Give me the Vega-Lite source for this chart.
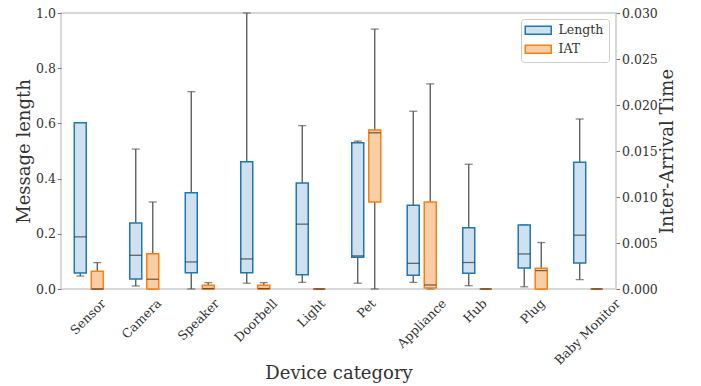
{
  "$schema": "https://vega.github.io/schema/vega-lite/v6.json",
  "autosize": {"type": "none"},
  "padding": {"left": 61, "top": 13, "right": 85, "bottom": 97},
  "width": 555,
  "height": 276,
  "background": "white",
  "config": {
    "font": "DejaVu Serif",
    "view": {"stroke": "#cccccc", "strokeWidth": 1.5},
    "axis": {
      "labelFont": "DejaVu Serif", "titleFont": "DejaVu Serif",
      "labelFontSize": 12.5, "titleFontSize": 18, "titleFontWeight": "normal",
      "labelColor": "#333333", "titleColor": "#333333",
      "tickColor": "#777777", "tickSize": 3.5, "labelPadding": 2,
      "domain": false, "grid": false
    },
    "legend": {"labelFont": "DejaVu Serif", "labelFontSize": 12.5, "labelColor": "#333333"}
  },
  "datasets": {
    "box": [
      {"category": "Sensor", "metric": "Length", "lo": 0.047, "q1": 0.058, "med": 0.189, "q3": 0.602, "hi": 0.602},
      {"category": "Sensor", "metric": "IAT", "lo": 0, "q1": 0, "med": 0, "q3": 0.00193, "hi": 0.00287},
      {"category": "Camera", "metric": "Length", "lo": 0.011, "q1": 0.036, "med": 0.122, "q3": 0.239, "hi": 0.507},
      {"category": "Camera", "metric": "IAT", "lo": 0, "q1": 0, "med": 0.00106, "q3": 0.00382, "hi": 0.00946},
      {"category": "Speaker", "metric": "Length", "lo": 0, "q1": 0.059, "med": 0.098, "q3": 0.349, "hi": 0.715},
      {"category": "Speaker", "metric": "IAT", "lo": 0, "q1": 0, "med": 0.00005, "q3": 0.0004, "hi": 0.00069},
      {"category": "Doorbell", "metric": "Length", "lo": 0.021, "q1": 0.059, "med": 0.109, "q3": 0.461, "hi": 1.0},
      {"category": "Doorbell", "metric": "IAT", "lo": 0, "q1": 0, "med": 0.00005, "q3": 0.0004, "hi": 0.00069},
      {"category": "Light", "metric": "Length", "lo": 0.024, "q1": 0.052, "med": 0.235, "q3": 0.384, "hi": 0.592},
      {"category": "Light", "metric": "IAT", "lo": 0, "q1": 0, "med": 0, "q3": 0, "hi": 0},
      {"category": "Pet", "metric": "Length", "lo": 0.021, "q1": 0.115, "med": 0.12, "q3": 0.53, "hi": 0.536},
      {"category": "Pet", "metric": "IAT", "lo": 0, "q1": 0.00946, "med": 0.01698, "q3": 0.01727, "hi": 0.02825},
      {"category": "Appliance", "metric": "Length", "lo": 0.024, "q1": 0.05, "med": 0.093, "q3": 0.303, "hi": 0.644},
      {"category": "Appliance", "metric": "IAT", "lo": 0, "q1": 0.0001, "med": 0.00044, "q3": 0.00946, "hi": 0.0223},
      {"category": "Hub", "metric": "Length", "lo": 0.012, "q1": 0.057, "med": 0.096, "q3": 0.222, "hi": 0.452},
      {"category": "Hub", "metric": "IAT", "lo": 0, "q1": 0, "med": 0, "q3": 0, "hi": 0},
      {"category": "Plug", "metric": "Length", "lo": 0.008, "q1": 0.076, "med": 0.127, "q3": 0.232, "hi": 0.232},
      {"category": "Plug", "metric": "IAT", "lo": 0, "q1": 0, "med": 0.002, "q3": 0.00226, "hi": 0.00505},
      {"category": "Baby Monitor", "metric": "Length", "lo": 0.034, "q1": 0.0945, "med": 0.195, "q3": 0.459, "hi": 0.616},
      {"category": "Baby Monitor", "metric": "IAT", "lo": 0, "q1": 0, "med": 0, "q3": 0, "hi": 0}
    ]
  },
  "data": {"name": "box"},
  "encoding": {
    "x": {
      "field": "category", "type": "nominal",
      "sort": ["Sensor", "Camera", "Speaker", "Doorbell", "Light", "Pet", "Appliance", "Hub", "Plug", "Baby Monitor"],
      "scale": {"paddingInner": 0.387, "paddingOuter": 0.194},
      "axis": {
        "title": "Device category", "labelAngle": -45, "labelAlign": "right", "labelBaseline": "middle",
        "ticks": false, "labelPadding": 12, "titlePadding": -2,
        "labelOffset": {"expr": "length(datum.label) * 2.5"}
      }
    },
    "xOffset": {"field": "metric", "type": "nominal", "scale": {"domain": ["Length", "IAT"], "paddingInner": 0, "paddingOuter": 0}}
  },
  "layer": [
    {
      "transform": [{"filter": "datum.metric === 'Length'"}],
      "layer": [
        {
          "mark": {"type": "rule", "color": "#555555", "strokeWidth": 1.3},
          "encoding": {
            "y": {"field": "lo", "type": "quantitative", "title": "Message length",
                  "scale": {"domain": [0, 1], "nice": false},
                  "axis": {"orient": "left", "values": [0, 0.2, 0.4, 0.6, 0.8, 1.0], "format": ".1f", "titlePadding": 2}},
            "y2": {"field": "q1"}
          }
        },
        {
          "mark": {"type": "rule", "color": "#555555", "strokeWidth": 1.3},
          "encoding": {"y": {"field": "q3", "type": "quantitative", "title": "Message length"}, "y2": {"field": "hi"}}
        },
        {
          "mark": {"type": "tick", "color": "#555555", "size": 8, "thickness": 1.3},
          "encoding": {"y": {"field": "lo", "type": "quantitative", "title": "Message length"}}
        },
        {
          "mark": {"type": "tick", "color": "#555555", "size": 8, "thickness": 1.3},
          "encoding": {"y": {"field": "hi", "type": "quantitative", "title": "Message length"}}
        },
        {
          "mark": {"type": "bar", "size": 12, "strokeWidth": 1.5},
          "encoding": {
            "y": {"field": "q1", "type": "quantitative", "title": "Message length"},
            "y2": {"field": "q3"},
            "fill": {"field": "metric", "type": "nominal", "title": null,
                     "scale": {"domain": ["Length", "IAT"], "range": ["#cfe0ee", "#f9cda6"]},
                     "legend": {"orient": "none", "legendX": 460, "legendY": 6, "title": null,
                                "symbolType": "M-2.6,-0.8H2.6V0.8H-2.6Z", "symbolSize": 100, "symbolStrokeWidth": 1.5,
                                "symbolOffset": 6, "labelOffset": 14, "padding": 5, "rowPadding": 4,
                                "strokeColor": "#cccccc", "cornerRadius": 3, "fillColor": "white", "labelFontSize": 12.5}},
            "stroke": {"field": "metric", "type": "nominal", "title": null,
                       "scale": {"domain": ["Length", "IAT"], "range": ["#1f77b4", "#ff7f0e"]},
                       "legend": {"orient": "none", "legendX": 460, "legendY": 6, "title": null,
                                "symbolType": "M-2.6,-0.8H2.6V0.8H-2.6Z", "symbolSize": 100, "symbolStrokeWidth": 1.5,
                                "symbolOffset": 6, "labelOffset": 14, "padding": 5, "rowPadding": 4,
                                "strokeColor": "#cccccc", "cornerRadius": 3, "fillColor": "white", "labelFontSize": 12.5}}
          }
        },
        {
          "mark": {"type": "tick", "color": "#333333", "size": 12, "thickness": 1.3},
          "encoding": {"y": {"field": "med", "type": "quantitative", "title": "Message length"}}
        }
      ]
    },
    {
      "transform": [{"filter": "datum.metric === 'IAT'"}],
      "layer": [
        {
          "mark": {"type": "rule", "color": "#555555", "strokeWidth": 1.3},
          "encoding": {
            "y": {"field": "lo", "type": "quantitative", "title": "Inter-Arrival Time",
                  "scale": {"domain": [0, 0.03], "nice": false},
                  "axis": {"orient": "right", "values": [0, 0.005, 0.01, 0.015, 0.02, 0.025, 0.03], "format": ".3f",
                           "titleAngle": -90, "titleBaseline": "top", "titlePadding": 1.5}},
            "y2": {"field": "q1"}
          }
        },
        {
          "mark": {"type": "rule", "color": "#555555", "strokeWidth": 1.3},
          "encoding": {"y": {"field": "q3", "type": "quantitative", "title": "Inter-Arrival Time"}, "y2": {"field": "hi"}}
        },
        {
          "mark": {"type": "tick", "color": "#555555", "size": 8, "thickness": 1.3},
          "encoding": {"y": {"field": "lo", "type": "quantitative", "title": "Inter-Arrival Time"}}
        },
        {
          "mark": {"type": "tick", "color": "#555555", "size": 8, "thickness": 1.3},
          "encoding": {"y": {"field": "hi", "type": "quantitative", "title": "Inter-Arrival Time"}}
        },
        {
          "mark": {"type": "bar", "size": 12, "strokeWidth": 1.5},
          "encoding": {
            "y": {"field": "q1", "type": "quantitative", "title": "Inter-Arrival Time"},
            "y2": {"field": "q3"},
            "fill": {"field": "metric", "type": "nominal", "title": null},
            "stroke": {"field": "metric", "type": "nominal", "title": null}
          }
        },
        {
          "mark": {"type": "tick", "color": "#333333", "size": 12, "thickness": 1.3},
          "encoding": {"y": {"field": "med", "type": "quantitative", "title": "Inter-Arrival Time"}}
        }
      ]
    }
  ],
  "resolve": {"scale": {"y": "independent"}}
}
